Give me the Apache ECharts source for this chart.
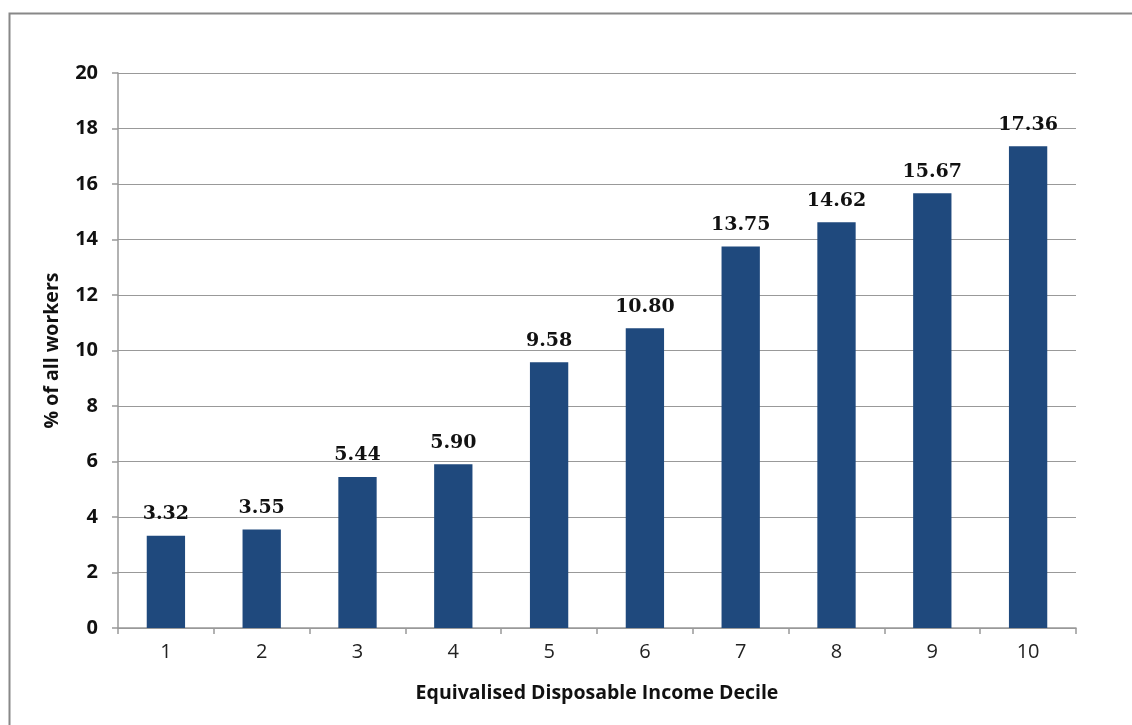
<!DOCTYPE html>
<html><head><meta charset="utf-8">
<script src="https://cdn.jsdelivr.net/npm/echarts@6/dist/echarts.min.js"></script>
<style>html,body{margin:0;padding:0;background:#fff}#c{width:1132px;height:725px}</style>
</head><body><div id="c"></div>
<script>
const categories = ['1','2','3','4','5','6','7','8','9','10'];
const values = [3.32, 3.55, 5.44, 5.90, 9.58, 10.80, 13.75, 14.62, 15.67, 17.36];
const yTicks = [0,2,4,6,8,10,12,14,16,18,20];

const chart = echarts.init(document.getElementById('c'));
chart.setOption({
  animation: false,
  backgroundColor: '#fff',
  graphic: [{type:'rect', left: 7, top: 11, shape:{width:1200, height:800}, style:{fill:'none', stroke:'#888', lineWidth:2}, silent:true}],
  grid: {left: 118, right: 56, top: 73, bottom: 97},
  xAxis: {
    type: 'category', data: categories,
    name: 'Equivalised Disposable Income Decile', nameLocation: 'middle', nameGap: 55,
    nameTextStyle: {fontFamily: 'Open Sans', fontWeight: 'bold', fontSize: 19.5, color: '#111'},
    axisLine: {lineStyle: {color: '#999', width: 1.5}},
    axisTick: {show: true, length: 6, lineStyle: {color: '#999', width: 1.5}},
    axisLabel: {fontFamily: 'Open Sans', fontSize: 20, color: '#222', margin: 14}
  },
  yAxis: {
    type: 'value', min: 0, max: 20, interval: 2,
    name: '% of all workers', nameLocation: 'middle', nameGap: 56, nameRotate: 90,
    nameTextStyle: {fontFamily: 'Open Sans', fontWeight: 'bold', fontSize: 19.5, color: '#111'},
    axisLine: {show: true, lineStyle: {color: '#999', width: 1.5}},
    axisTick: {show: true, length: 6, lineStyle: {color: '#999', width: 1.5}},
    splitLine: {lineStyle: {color: '#999', width: 1.2}},
    axisLabel: {fontFamily: 'Open Sans', fontWeight: 'bold', fontSize: 20, color: '#111', margin: 20,
      formatter: v => yTicks.includes(v) ? String(v) : ''}
  },
  series: [{
    type: 'bar', data: values, barWidth: '40%',
    itemStyle: {color: '#1F497D'},
    label: {show: true, position: 'top', distance: 12, fontFamily: 'DejaVu Serif', fontWeight: 'bold', fontSize: 19, color: '#111',
      formatter: p => p.value.toFixed(2)}
  }]
});
</script></body></html>
